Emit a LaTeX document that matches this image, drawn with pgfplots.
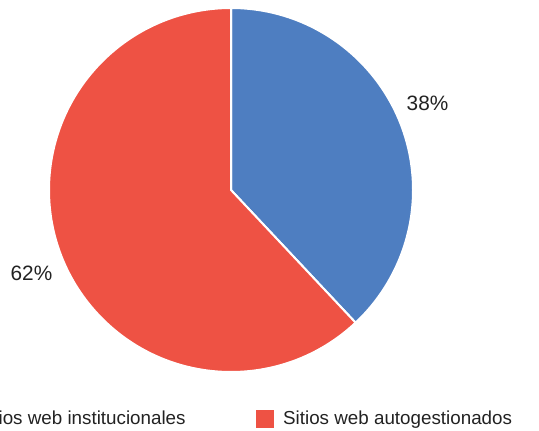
\documentclass[border=0pt]{standalone}
\usepackage{fontspec}
\setmainfont{Liberation Sans}
\usepackage{pgfplots}
\usepackage{pgfplotstable}
\pgfplotsset{compat=1.18}
\definecolor{pieBlue}{RGB}{78,126,193}
\definecolor{pieRed}{RGB}{238,82,68}
\definecolor{txt}{RGB}{34,34,34}

% share of each slice (percent)
\pgfplotstableread{
share
38
62
}\piedata

\begin{document}
\begin{tikzpicture}
\pgfplotstablegetelem{0}{share}\of\piedata \let\shareA\pgfplotsretval
\pgfplotstablegetelem{1}{share}\of\piedata \let\shareB\pgfplotsretval
\pgfmathsetmacro{\endA}{90-3.6*\shareA}
\pgfmathsetmacro{\endB}{\endA-3.6*\shareB}
\useasboundingbox (0,0) rectangle (404.25pt,322.5pt);
\begin{axis}[
    x=0.75pt, y=0.75pt,
    xmin=0, xmax=539, ymin=0, ymax=430,
    hide axis, clip=false,
    legend columns=2,
    legend style={draw=none, fill=none, at={(axis cs:519,11)}, anchor=east,
        font=\fontsize{14.1}{16}\selectfont, text=txt,
        /tikz/every even column/.append style={column sep=51pt}},
    legend cell align=left,
]
\addlegendimage{legend image code/.code={\fill[pieBlue] (0pt,-6.4pt) rectangle (12.75pt,6.4pt); \path (17.75pt,0pt);}}
\addlegendentry{Sitios web institucionales}
\addlegendimage{legend image code/.code={\fill[pieRed] (0pt,-6.4pt) rectangle (12.75pt,6.4pt); \path (17.75pt,0pt);}}
\addlegendentry{Sitios web autogestionados}

\fill[pieBlue, draw=white, line width=1.5pt] (axis cs:231,240) -- (axis cs:231,422)
    arc[start angle=90, end angle=\endA, radius=136.5pt] -- cycle;
\fill[pieRed, draw=white, line width=1.5pt] (axis cs:231,240) -- ++(\endA:136.5pt)
    arc[start angle=\endA, end angle=\endB, radius=136.5pt] -- cycle;

\node[text=txt, font=\fontsize{15.6}{18}\selectfont] at (axis cs:427.5,327) {\shareA\%};
\node[text=txt, font=\fontsize{15.6}{18}\selectfont] at (axis cs:31.5,157) {\shareB\%};
\end{axis}
\end{tikzpicture}
\end{document}
